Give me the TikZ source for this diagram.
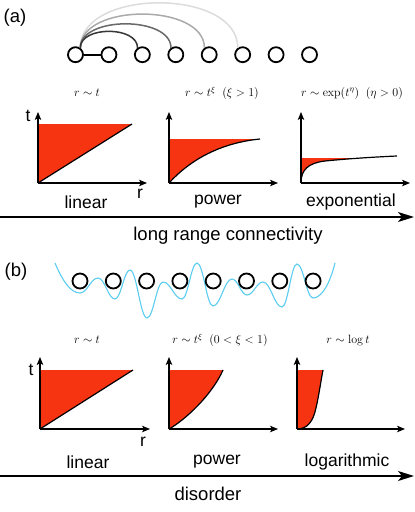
\documentclass[tikz,border=0pt]{standalone}
\usepackage[no-math]{fontspec}
\setmainfont{Liberation Sans}
\usetikzlibrary{arrows.meta}
\definecolor{fillred}{RGB}{246,52,18}
\definecolor{wave}{RGB}{90,205,240}
\definecolor{arcA}{RGB}{55,55,55}
\definecolor{arcB}{RGB}{105,105,105}
\definecolor{arcC}{RGB}{170,170,170}
\definecolor{arcD}{RGB}{220,220,220}
\begin{document}
\begin{tikzpicture}[x=1pt,y=-1pt,
  site/.style={circle,draw=black,line width=1.8pt,minimum size=15pt,inner sep=0pt},
  axis/.style={line width=1.2pt,-{Stealth[length=8pt,width=6.5pt,inset=2pt]}},
  bigarrow/.style={line width=1.4pt,-{Stealth[length=16pt,width=10pt,inset=4pt]}},
  curve/.style={line width=1.2pt},
  lbl/.style={font=\fontsize{17.5}{20}\selectfont,inner sep=0pt},
  capt/.style={font=\fontsize{18.5}{22}\selectfont,inner sep=0pt},
  ttl/.style={font=\fontsize{12}{14}\selectfont,inner sep=0pt},
  ]
\useasboundingbox (0,0) rectangle (415,512);

% ---------------- panel (a) ----------------
\node[capt] (la) at (15,18) {(a)};
\foreach \i in {1,...,8}
  \node[site] (a\i) at ({75.5+33.43*(\i-1)},54.7) {};
\draw[line width=1.8pt] (a1) -- (a2);
\draw[line width=1.5pt,draw=arcD] (a1.55) .. controls +(0,-60) and +(0,-60) .. (a6.125);
\draw[line width=1.5pt,draw=arcC] (a1.55) .. controls +(0,-45) and +(0,-45) .. (a5.125);
\draw[line width=1.5pt,draw=arcB] (a1.55) .. controls +(0,-32) and +(0,-32) .. (a4.125);
\draw[line width=1.5pt,draw=arcA] (a1.55) .. controls +(0,-22) and +(0,-22) .. (a3.125);

% graph a1
\coordinate (oa1) at (38,183);
\coordinate (ya1) at (38,112);
\coordinate (xa1) at (147,183);
\fill[fillred] (oa1) -- (132,124) -- (38,124) -- cycle;
\draw[curve] (oa1) -- (132,124);
\draw[axis] (oa1) -- (ya1);
\draw[axis] (oa1) -- (xa1);
\node[lbl] (ta1) at (28,116) {t};
\node[lbl] (ra1) at (140,194) {r};
\node[ttl] (ha1) at (87,93) {$r\sim t$};
\node[lbl] (na1) at (86,202) {linear};

% graph a2
\coordinate (oa2) at (169,183);
\coordinate (ya2) at (169,112);
\coordinate (xa2) at (278,183);
\fill[fillred] (oa2) .. controls (190,160) and (220,143) .. (260,139) -- (169,139) -- cycle;
\draw[curve] (oa2) .. controls (190,160) and (220,143) .. (260,139);
\draw[axis] (oa2) -- (ya2);
\draw[axis] (oa2) -- (xa2);
\node[ttl] (ha2) at (222,93) {$r\sim t^{\xi}\ \ (\xi>1)$};
\node[lbl] (na2) at (218,202) {power};

% graph a3
\coordinate (oa3) at (301,183);
\coordinate (ya3) at (301,112);
\coordinate (xa3) at (410,183);
\begin{scope}
\clip (301,158) rectangle (410,183);
\fill[fillred] (oa3) .. controls (301,170) and (308,163) .. (325,161) .. controls (350,158.5) and (375,157) .. (397,156) -- (301,156) -- cycle;
\end{scope}
\draw[curve] (oa3) .. controls (301,170) and (308,163) .. (325,161) .. controls (350,158.5) and (375,157) .. (397,156);
\draw[axis] (oa3) -- (ya3);
\draw[axis] (oa3) -- (xa3);
\node[ttl] (ha3) at (352,93) {$r\sim \exp(t^{\eta})\ \ (\eta>0)$};
\node[lbl] (na3) at (351,202) {exponential};

% big arrow a
\coordinate (sa) at (0,217);
\coordinate (ea) at (414,217);
\draw[bigarrow] (sa) -- (ea);
\node[capt] (ca) at (228,236) {long range connectivity};

% ---------------- panel (b) ----------------
\node[capt] (lb) at (16,272) {(b)};
\draw[wave,line width=1.1pt] (55,263)
  .. controls (63,282) and (71,293) .. (80,293)
  .. controls (87.2,293) and (90.8,278) .. (98,278)
  .. controls (104.8,278) and (108.2,299) .. (115,299)
  .. controls (121,299) and (124,270) .. (130,270)
  .. controls (136.8,270) and (140.2,318) .. (147,318)
  .. controls (153.4,318) and (156.6,282) .. (163,282)
  .. controls (170.6,282) and (174.4,299) .. (182,299)
  .. controls (188,299) and (191,263) .. (197,263)
  .. controls (203.4,263) and (206.6,306) .. (213,306)
  .. controls (220.6,306) and (224.4,279) .. (232,279)
  .. controls (238,279) and (241,295) .. (247,295)
  .. controls (253.4,295) and (256.6,282) .. (263,282)
  .. controls (270.6,282) and (274.4,307) .. (282,307)
  .. controls (288,307) and (291,264) .. (297,264)
  .. controls (303.4,264) and (306.6,298) .. (313,298)
  .. controls (322,298) and (330,283) .. (335,263);
\foreach \i in {1,...,8}
  \node[site] (b\i) at ({80+33.3*(\i-1)},281) {};

% graph b1
\coordinate (ob1) at (40,429);
\coordinate (yb1) at (40,357);
\coordinate (xb1) at (150,429);
\fill[fillred] (ob1) -- (133,370) -- (40,370) -- cycle;
\draw[curve] (ob1) -- (133,370);
\draw[axis] (ob1) -- (yb1);
\draw[axis] (ob1) -- (xb1);
\node[lbl] (tb1) at (31,370) {t};
\node[lbl] (rb1) at (143,442) {r};
\node[ttl] (hb1) at (87,340) {$r\sim t$};
\node[lbl] (nb1) at (88,462) {linear};

% graph b2
\coordinate (ob2) at (169,429);
\coordinate (yb2) at (169,357);
\coordinate (xb2) at (278,429);
\fill[fillred] (ob2) .. controls (185,420) and (212,395) .. (223,370) -- (169,370) -- cycle;
\draw[curve] (ob2) .. controls (185,420) and (212,395) .. (223,370);
\draw[axis] (ob2) -- (yb2);
\draw[axis] (ob2) -- (xb2);
\node[ttl] (hb2) at (220,340) {$r\sim t^{\xi}\ \ (0<\xi<1)$};
\node[lbl] (nb2) at (217,462) {power};

% graph b3
\coordinate (ob3) at (297,429);
\coordinate (yb3) at (297,357);
\coordinate (xb3) at (405,429);
\fill[fillred] (ob3) .. controls (307,429) and (313,422) .. (316,408) .. controls (319,395) and (321,380) .. (323,370) -- (297,370) -- cycle;
\draw[curve] (ob3) .. controls (307,429) and (313,422) .. (316,408) .. controls (319,395) and (321,380) .. (323,370);
\draw[axis] (ob3) -- (yb3);
\draw[axis] (ob3) -- (xb3);
\node[ttl] (hb3) at (348,340) {$r\sim \log t$};
\node[lbl] (nb3) at (347,462) {logarithmic};

% big arrow b
\coordinate (sb) at (0,476);
\coordinate (eb) at (414,476);
\draw[bigarrow] (sb) -- (eb);
\node[capt] (cb) at (208,494) {disorder};
\end{tikzpicture}
\end{document}
